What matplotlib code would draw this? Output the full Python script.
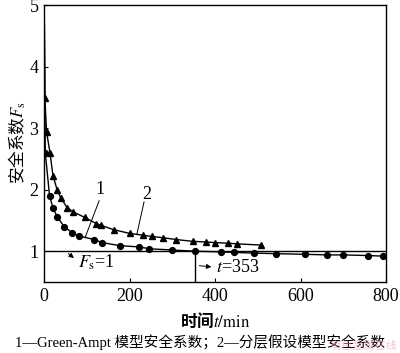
import matplotlib
matplotlib.use("Agg")
import matplotlib.pyplot as plt

# ---- data ----
t1 = [0.5, 3, 13, 21, 31, 47, 66, 81, 117, 136, 178, 223, 246, 299, 353, 413, 444,
      491, 543, 611, 663, 699, 757, 794]
fs1 = [5.0, 2.60, 1.90, 1.70, 1.56, 1.40, 1.30, 1.25, 1.19, 1.14, 1.09, 1.07, 1.04,
       1.02, 1.00, 0.99, 0.98, 0.97, 0.96, 0.95, 0.94, 0.94, 0.93, 0.92]
t2 = [0.5, 2, 6, 14, 21, 31, 39, 54, 68, 95, 122, 134, 163, 200, 232, 252, 278, 309,
      348, 378, 400, 431, 451, 507]
fs2 = [5.0, 3.49, 2.94, 2.60, 2.23, 1.99, 1.87, 1.71, 1.64, 1.55, 1.45, 1.42, 1.35,
       1.29, 1.26, 1.24, 1.22, 1.19, 1.16, 1.15, 1.14, 1.13, 1.12, 1.10]
fs_limit = 1.0
t_cross = 353
xticks = [0, 200, 400, 600, 800]
yticks = [1, 2, 3, 4, 5]

plt.rcParams['mathtext.fontset'] = 'stix'
serif = ['Liberation Serif', 'Noto Sans CJK SC']

fig = plt.figure(figsize=(4.0, 3.53), dpi=100)
ax = fig.add_axes([44/400, 1-282/353, (386-44)/400, (282-5)/353])

ax.plot(t1, fs1, color='black', lw=1.0, marker='o', ms=4.2, markevery=slice(1, None))
ax.plot(t2, fs2, color='black', lw=1.0, marker='^', ms=4.5, markevery=slice(1, None))
ax.axhline(fs_limit, color='black', lw=1.0)
ax.plot([t_cross, t_cross], [0.5, fs_limit], color='black', lw=1.0)

ax.set_xlim(0, 800)
ax.set_ylim(0.5, 5)
ax.set_xticks(xticks)
ax.set_yticks(yticks)
ax.tick_params(direction='in', length=3, width=0.8, labelsize=13, pad=4)
for lab in ax.get_xticklabels() + ax.get_yticklabels():
    lab.set_family(serif)
for s in ax.spines.values():
    s.set_linewidth(1.0)

# annotations
ax.text(131, 2.0, '1', fontsize=13, family=serif, ha='center', va='center')
ax.plot([129, 96], [1.82, 1.22], color='black', lw=0.7)
ax.text(240, 1.92, '2', fontsize=13, family=serif, ha='center', va='center')
ax.plot([234, 217], [1.80, 1.27], color='black', lw=0.7)

ax.annotate('', xy=(75, 0.86), xytext=(52, 0.99),
            arrowprops=dict(arrowstyle='-|>', color='black', lw=0.7, mutation_scale=7))
ax.text(79, 0.82, r'$F_\mathrm{s}$=1', fontsize=13, family='Liberation Serif',
        ha='left', va='center')
ax.annotate('', xy=(398, 0.74), xytext=(357, 0.77),
            arrowprops=dict(arrowstyle='-|>', color='black', lw=0.7, mutation_scale=7))
ax.text(403, 0.73, r'$t$=353', fontsize=13, family='Liberation Serif',
        ha='left', va='center')

# axis labels
fig.text(17/400, 1-143/353, r'安全系数$F_\mathrm{s}$', rotation=90, fontsize=12,
         family='Noto Sans CJK SC', ha='center', va='center')
fig.text(215/400, 1-321/353, r'时间$t\mathrm{/min}$', fontsize=12,
         family='Noto Sans CJK SC', fontweight='bold', ha='center', va='center')

fig.text(200/400, 1-342/353, '1—Green-Ampt 模型安全系数；2—分层假设模型安全系数',
         fontsize=10.5, family=serif, ha='center', va='center')
fig.text(364/400, 1-346/353, '有色金属在线', fontsize=8, color='#f0a0b0', alpha=0.6,
         family='Noto Sans CJK SC', ha='center', va='center')

fig.savefig('out.png', dpi=100)
